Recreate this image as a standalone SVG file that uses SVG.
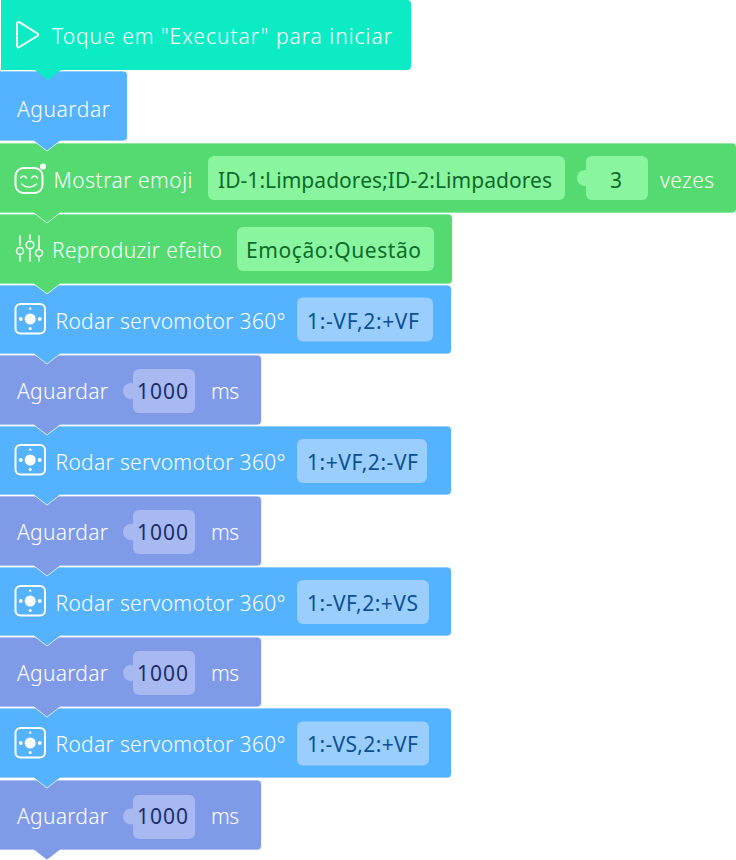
<svg xmlns="http://www.w3.org/2000/svg" width="736" height="860" viewBox="0 0 736 860">
<defs>
<style>
text{font-family:"Noto Sans","Open Sans",sans-serif;font-size:21px;font-weight:300}
.w{fill:#fff}
.blk{stroke:#fff;stroke-opacity:.75;stroke-width:1}
.t{fill:#0debc4}.b{fill:#55b2ff}.g{fill:#54da70}.p{fill:#7f9be8}
.fb{fill:#99ceff}.fg{fill:#8af59f}.fp{fill:#a8b9f2}
.tb{fill:#0d4f93;font-weight:400}.tg{fill:#0e6b2a;font-weight:400}.tp{fill:#1d2c66;font-weight:400}
.ic{fill:none;stroke:#fff;stroke-width:2;stroke-linecap:round;stroke-linejoin:round}
.thin{stroke-width:1.500}
.m{fill:#fff}
</style>
<g id="servo"><rect x="15.500" y="-15" width="29.500" height="29.500" rx="5" class="ic"/><circle cx="30.200" cy="0" r="5.500" class="m"/><circle cx="20.800" cy="0" r="1.900" class="m"/><circle cx="39.700" cy="0" r="1.900" class="m"/><path d="M28.500-9.500h3.400l-1.700-2.600z" class="m"/><circle cx="30.200" cy="9.500" r="1.500" class="m"/></g>
</defs>
<g id="wait4"><path class="blk p" d="M-2 780H257.500a4 4 0 0 1 4 4V846a4 4 0 0 1-4 4H60L47 860 34 850H-2Z"/><text class="w" x="17" y="824" textLength="91">Aguardar</text><rect class="fp" x="133" y="795" width="62" height="44" rx="6"/><circle class="fp" cx="131" cy="816.500" r="8"/><text class="tp" x="137" y="824" textLength="51">1000</text><text class="w" x="211" y="824" textLength="28">ms</text></g>
<g id="servo4"><path class="blk b" d="M-2 708H447.500a4 4 0 0 1 4 4V774a4 4 0 0 1-4 4H60L47 788 34 778H-2Z"/><use href="#servo" y="743"/><text class="w" x="55.500" y="751.500" textLength="230">Rodar servomotor 360°</text><rect class="fb" x="297" y="721.500" width="132" height="44" rx="6"/><text class="tb" x="307" y="751.500" textLength="111">1:-VS,2:+VF</text></g>
<g id="wait3"><path class="blk p" d="M-2 637H257.500a4 4 0 0 1 4 4V703a4 4 0 0 1-4 4H60L47 717 34 707H-2Z"/><text class="w" x="17" y="681" textLength="91">Aguardar</text><rect class="fp" x="133" y="651" width="62" height="44" rx="6"/><circle class="fp" cx="131" cy="673" r="8"/><text class="tp" x="137" y="681" textLength="51">1000</text><text class="w" x="211" y="681" textLength="28">ms</text></g>
<g id="servo3"><path class="blk b" d="M-2 567H447.500a4 4 0 0 1 4 4V632a4 4 0 0 1-4 4H60L47 646 34 636H-2Z"/><use href="#servo" y="601"/><text class="w" x="55.500" y="610.500" textLength="230">Rodar servomotor 360°</text><rect class="fb" x="297" y="580" width="132" height="44" rx="6"/><text class="tb" x="307" y="610.500" textLength="111">1:-VF,2:+VS</text></g>
<g id="wait2"><path class="blk p" d="M-2 496H257.500a4 4 0 0 1 4 4V562a4 4 0 0 1-4 4H60L47 576 34 566H-2Z"/><text class="w" x="17" y="540" textLength="91">Aguardar</text><rect class="fp" x="133" y="510" width="62" height="44" rx="6"/><circle class="fp" cx="131" cy="532" r="8"/><text class="tp" x="137" y="540" textLength="51">1000</text><text class="w" x="211" y="540" textLength="28">ms</text></g>
<g id="servo2"><path class="blk b" d="M-2 426H447.500a4 4 0 0 1 4 4V491a4 4 0 0 1-4 4H60L47 505 34 495H-2Z"/><use href="#servo" y="460"/><text class="w" x="55.500" y="469.500" textLength="230">Rodar servomotor 360°</text><rect class="fb" x="297" y="439" width="130" height="44" rx="6"/><text class="tb" x="307" y="469.500" textLength="111">1:+VF,2:-VF</text></g>
<g id="wait1"><path class="blk p" d="M-2 355H257.500a4 4 0 0 1 4 4V421a4 4 0 0 1-4 4H60L47 435 34 425H-2Z"/><text class="w" x="17" y="399" textLength="91">Aguardar</text><rect class="fp" x="133" y="369" width="62" height="44" rx="6"/><circle class="fp" cx="131" cy="391" r="8"/><text class="tp" x="137" y="399" textLength="51">1000</text><text class="w" x="211" y="399" textLength="28">ms</text></g>
<g id="servo1"><path class="blk b" d="M-2 285H447.500a4 4 0 0 1 4 4V350a4 4 0 0 1-4 4H60L47 364 34 354H-2Z"/><use href="#servo" y="319"/><text class="w" x="55.500" y="328.500" textLength="230">Rodar servomotor 360°</text><rect class="fb" x="297" y="297.500" width="136" height="44" rx="6"/><text class="tb" x="307" y="328.500" textLength="112">1:-VF,2:+VF</text></g>
<g id="sound"><path class="blk g" d="M-2 214H448.500a4 4 0 0 1 4 4V280a4 4 0 0 1-4 4H60L47 294 34 284H-2Z"/>
<path class="ic thin" d="M20 236v9M20 256v5M30 235v4M30 250v11M39 236v13M39 258v3"/><circle class="ic thin" cx="20" cy="251" r="3.500"/><circle class="ic thin" cx="30" cy="245" r="3.800"/><circle class="ic thin" cx="39" cy="253" r="3.500"/>
<text class="w" x="52" y="258" textLength="170">Reproduzir efeito</text><rect class="fg" x="237" y="227" width="197" height="44" rx="6"/><text class="tg" x="246" y="258" textLength="175">Emoção:Questão</text></g>
<g id="emoji"><path class="blk g" d="M-2 143H732.500a4 4 0 0 1 4 4V209a4 4 0 0 1-4 4H60L47 223 34 213H-2Z"/>
<rect class="ic" x="15.500" y="168" width="27" height="25" rx="8"/><circle class="m" cx="43" cy="166.500" r="3"/>
<path class="ic thin" d="M20.500 178q3-4 6 0M31.500 178q3-4 6 0M21.500 184q7.500 6.500 15 0"/>
<text class="w" x="53.500" y="187.500" textLength="139">Mostrar emoji</text><rect class="fg" x="208" y="156" width="357" height="44" rx="6"/><text class="tg" x="218" y="187.500" textLength="334">ID-1:Limpadores;ID-2:Limpadores</text>
<rect class="fg" x="586" y="156" width="62" height="44" rx="6"/><circle class="fg" cx="585" cy="178" r="8"/><text class="tg" x="616" y="187.500" text-anchor="middle">3</text><text class="w" x="660" y="187.500" textLength="54">vezes</text></g>
<g id="wait0"><path class="blk b" d="M-2 71H123.500a4 4 0 0 1 4 4V137a4 4 0 0 1-4 4H60L47 151 34 141H-2Z"/><text class="w" x="17" y="116.500" textLength="93">Aguardar</text></g>
<g id="start"><path class="t" d="M1 0H407a4 4 0 0 1 4 4V66a4 4 0 0 1-4 4H61L48 80 35 70H1Z"/>
<path class="ic" d="M17 23.500a1.500 1.500 0 0 1 2.300-1.300L37.500 33.500a1.500 1.500 0 0 1 0 2.500L19.300 47a1.500 1.500 0 0 1-2.300-1.300Z"/>
<text class="w" x="52" y="43.500" textLength="340">Toque em "Executar" para iniciar</text></g>
</svg>
